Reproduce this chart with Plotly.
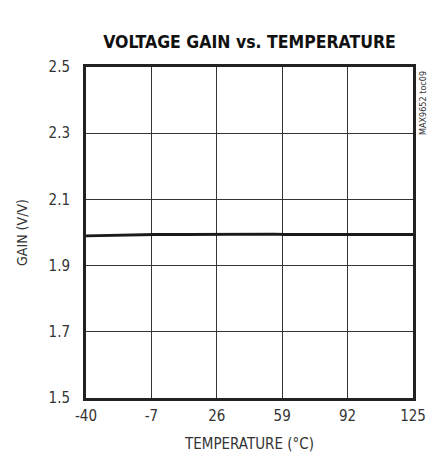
import plotly.graph_objects as go

temperature = [-40, -25, -10, -5, 10, 25, 40, 55, 60, 70, 85, 100, 125]
gain = [1.990, 1.992, 1.993, 1.994, 1.994, 1.995, 1.995, 1.995, 1.994, 1.994, 1.994, 1.994, 1.994]
x_ticks = [-40, -7, 26, 59, 92, 125]
y_ticks = [1.5, 1.7, 1.9, 2.1, 2.3, 2.5]

FONT = "DejaVu Sans Condensed, Liberation Sans Narrow, Arial Narrow, sans-serif"

fig = go.Figure()
fig.add_trace(go.Scatter(
    x=temperature, y=gain, mode="lines",
    line=dict(color="#1a1a1a", width=2.8),
    showlegend=False, hoverinfo="skip",
))

axis_common = dict(
    showline=True, mirror=True, linecolor="#222222", linewidth=3,
    showgrid=True, gridcolor="#333333", gridwidth=1,
    ticks="", zeroline=False,
    tickfont=dict(family=FONT, size=15, color="#333333"),
)

L, T, PW, PH = 78, 59, 327, 331
fig.update_layout(
    width=441, height=457,
    margin=dict(l=L, r=441 - L - PW, t=T, b=457 - T - PH),
    paper_bgcolor="white", plot_bgcolor="white",
    title=dict(
        text="<b>VOLTAGE GAIN vs. TEMPERATURE</b>",
        x=(L + PW / 2) / 441, xanchor="center",
        y=1 - 34 / 457, yanchor="middle",
        font=dict(family=FONT, size=17.5, color="#111111"),
    ),
    xaxis=dict(
        range=[-40, 125], tickvals=x_ticks,
        ticktext=[str(v) for v in x_ticks],
        title=dict(text="TEMPERATURE (°C)", font=dict(family=FONT, size=15, color="#333333"), standoff=15),
        ticklabelstandoff=2,
        **axis_common,
    ),
    yaxis=dict(
        range=[1.5, 2.5], tickvals=y_ticks,
        ticktext=[f"{v:.1f}" for v in y_ticks],
        title=dict(text="GAIN (V/V)", font=dict(family=FONT, size=14, color="#333333"), standoff=18),
        ticklabelstandoff=10,
        **axis_common,
    ),
    annotations=[dict(
        text="MAX9652 toc09", textangle=-90,
        xref="paper", yref="paper", x=1.0, y=1.0,
        xanchor="left", yanchor="top", xshift=3, yshift=-2,
        showarrow=False,
        font=dict(family=FONT, size=9, color="#333333"),
    )],
)

fig.write_html("out.html")
